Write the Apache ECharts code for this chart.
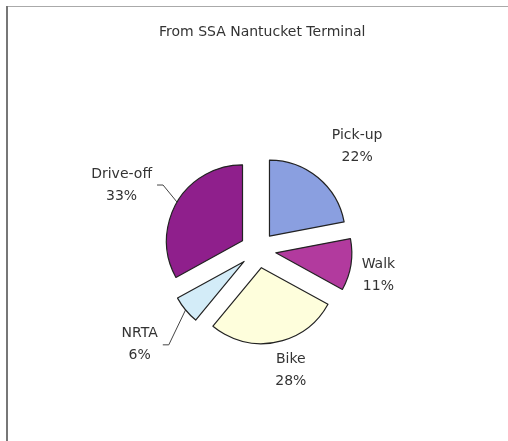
<!DOCTYPE html>
<html>
<head>
<meta charset="utf-8">
<script src="https://cdn.jsdelivr.net/npm/echarts@6/dist/echarts.min.js"></script>
<style>html,body{margin:0;padding:0;background:#fff}#c{width:508px;height:441px}</style>
</head>
<body>
<div id="c"></div>
<script>
const titleText = 'From SSA Nantucket Terminal';
const categories = ['Pick-up', 'Walk', 'Bike', 'NRTA', 'Drive-off'];
const values = [22, 11, 28, 6, 33];
const colors = ['#8a9fe0', '#b23a9e', '#fefedc', '#d3ecf8', '#8f1f8c'];
const showLine = [false, false, false, true, true];

// label nudges (layout only)
const labelNudge = [[-6, -20], [-14, 8], [-14, 14], [-6, 26], [-2, -10]];

const chart = echarts.init(document.getElementById('c'), null, {renderer: 'canvas'});
chart.setOption({
  animation: false,
  backgroundColor: '#fff',
  title: {
    text: titleText, left: 154, top: 20,
    textStyle: {fontFamily: 'DejaVu Sans', fontSize: 14, fontWeight: 'normal', color: '#333'}
  },
  graphic: [
    {type: 'line', shape: {x1: 7, y1: 6.5, x2: 508, y2: 6.5}, style: {stroke: '#aaa', lineWidth: 1}},
    {type: 'line', shape: {x1: 7, y1: 6, x2: 7, y2: 441}, style: {stroke: '#777', lineWidth: 2}}
  ],
  series: [{
    type: 'pie',
    center: [258, 250],
    radius: 76,
    startAngle: 90,
    clockwise: true,
    selectedMode: 'multiple',
    selectedOffset: 18,
    emphasis: {scale: false},
    itemStyle: {borderColor: '#222', borderWidth: 1.2},
    label: {
      show: true, position: 'outside',
      formatter: '{n|{b}}\n{n|{c}%}',
      color: '#333', fontFamily: 'DejaVu Sans', fontSize: 14,
      rich: {n: {align: 'center', fontFamily: 'DejaVu Sans', fontSize: 14, color: '#333', lineHeight: 22}}
    },
    labelLine: {length: 14, length2: 6, lineStyle: {color: '#444', width: 1}},
    labelLayout: function (p) {
      const s = labelNudge[p.dataIndex];
      const out = {dx: s[0], dy: s[1]};
      const pts = p.labelLinePoints;
      if (pts && pts.length === 3) {
        out.labelLinePoints = [
          [pts[0][0], pts[0][1]],
          [pts[1][0] + s[0], pts[1][1] + s[1]],
          [pts[2][0] + s[0], pts[2][1] + s[1]]
        ];
      }
      return out;
    },
    data: categories.map((name, i) => ({
      name, value: values[i], selected: true,
      itemStyle: {color: colors[i]},
      labelLine: {show: showLine[i]}
    }))
  }]
});
</script>
</body>
</html>
